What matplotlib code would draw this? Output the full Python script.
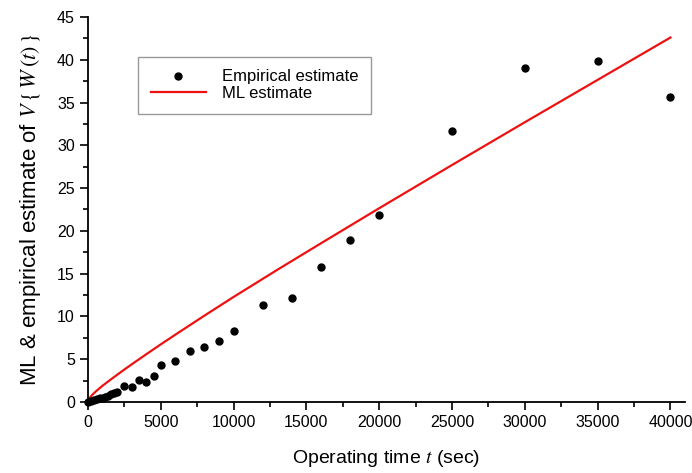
import numpy as np
import matplotlib
matplotlib.use('Agg')
import matplotlib.pyplot as plt

plt.rcParams['font.family'] = ['Liberation Sans', 'DejaVu Sans']
plt.rcParams['mathtext.fontset'] = 'stix'

# empirical estimate (dots)
t_emp = [0, 200, 400, 600, 800, 1000, 1200, 1400, 1600, 1800, 2000,
         2500, 3000, 3500, 4000, 4500, 5000,
         6000, 7000, 8000, 9000, 10000,
         12000, 14000, 16000, 18000, 20000,
         25000, 30000, 35000, 40000]
v_emp = [0.0, 0.1, 0.22, 0.3, 0.42, 0.52, 0.62, 0.75, 0.88, 1.02, 1.2,
         1.87, 1.79, 2.6, 2.3, 3.05, 4.28,
         4.75, 5.95, 6.4, 7.17, 8.35,
         11.37, 12.2, 15.8, 18.97, 21.9,
         31.7, 39.0, 39.9, 35.7]

# ML estimate (red curve)
t_ml = [0, 100, 300, 600, 1000, 1500, 2000, 2500, 3000, 4000, 5000,
        6000, 8000, 10000, 13000, 16000, 20000, 25000, 30000, 35000, 40000]
v_ml = [0.0, 0.45, 0.85, 1.33, 1.9, 2.55, 3.18, 3.8, 4.4, 5.58, 6.74,
        7.87, 10.1, 12.28, 15.45, 18.55, 22.65, 27.7, 32.7, 37.65, 42.6]

fig = plt.figure(figsize=(6.92, 4.73), dpi=100)
ax = fig.add_axes([88/692, 71/473, 597/692, 385/473])

ax.plot(t_emp, v_emp, 'o', color='black', markersize=5, clip_on=False,
        zorder=3, label='Empirical estimate')
ax.plot(t_ml, v_ml, '-', color='#ee1111', linewidth=1.6, clip_on=False,
        label='ML estimate')

ax.set_xlim(0, 41000)
ax.set_ylim(0, 45)
ax.set_xticks(np.arange(0, 40001, 5000))
ax.set_xticks(np.arange(2500, 40001, 5000), minor=True)
ax.set_yticks(np.arange(0, 46, 5))
ax.set_yticks(np.arange(2.5, 45, 5), minor=True)

for s in ['top', 'right']:
    ax.spines[s].set_visible(False)
for s in ['left', 'bottom']:
    ax.spines[s].set_linewidth(1.3)
ax.tick_params(which='major', length=6, width=1.2, labelsize=11.5, direction='out')
ax.tick_params(which='minor', length=3.5, width=1.2, direction='out')

ax.set_xlabel(r'Operating time $t$ (sec)', fontsize=14, labelpad=13)
ax.set_ylabel(r'ML & empirical estimate of $V\,\{\,W\,(t)\,\}$', fontsize=16, labelpad=10)

leg = ax.legend(loc='upper left', bbox_to_anchor=(138/692, 1 - 57/473),
                bbox_transform=fig.transFigure, borderaxespad=0,
                fontsize=12, frameon=True, fancybox=False, edgecolor='#808080',
                handlelength=3.3, handletextpad=1.0, labelspacing=0.1,
                borderpad=0.75)
leg.get_frame().set_linewidth(1.0)

fig.savefig('out.png', dpi=100)
